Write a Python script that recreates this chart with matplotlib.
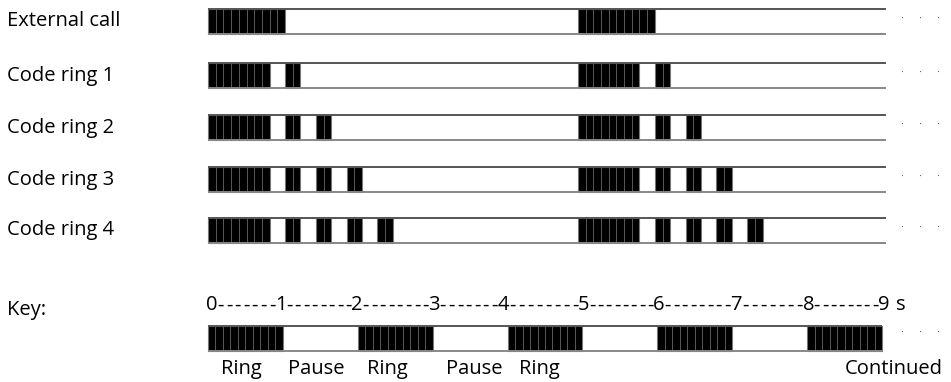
import matplotlib
matplotlib.use("Agg")
import matplotlib.pyplot as plt

# ring patterns, in 0.1 s cells: (start, length) of each burst
row_names = ["External call", "Code ring 1", "Code ring 2", "Code ring 3", "Code ring 4"]
row_bursts = [
    [(0, 10), (48, 10)],
    [(0, 8), (10, 2), (48, 8), (58, 2)],
    [(0, 8), (10, 2), (14, 2), (48, 8), (58, 2), (62, 2)],
    [(0, 8), (10, 2), (14, 2), (18, 2), (48, 8), (58, 2), (62, 2), (66, 2)],
    [(0, 8), (10, 2), (14, 2), (18, 2), (22, 2), (48, 8), (58, 2), (62, 2), (66, 2), (70, 2)],
]
row_cells = 88

# key: 1 s ring, 1 s pause, in 0.1 s cells
key_bursts = [(0, 10), (20, 10), (40, 10), (60, 10), (80, 10)]
key_cells = 90
key_digits = ["0", "1", "2", "3", "4", "5", "6", "7", "8", "9"]
key_digit_sec = [0.05, 0.97, 1.99, 3.02, 3.94, 5.02, 6.02, 7.05, 8.02, 9.02]
key_dashes = [7, 8, 8, 7, 8, 8, 8, 7, 8]
key_words = ["Ring", "Pause", "Ring", "Pause", "Ring", "Continued"]
key_word_sec = [0.45, 1.44, 2.40, 3.56, 4.42, 9.16]

plt.rcParams['font.family'] = ['Open Sans', 'DejaVu Sans']

W, H = 951, 382
fig = plt.figure(figsize=(W / 100, H / 100), dpi=100)

x0 = 208            # pixel where t = 0
row_px = 678 / row_cells
key_px = 674 / key_cells
row_y = [21.5, 75.5, 127.5, 179.5, 230.5]
key_y = 338.5
bar_h = 25
fs = 14.5

def make_ax(px):
    ax = fig.add_axes([0, 0, 1, 1])
    ax.set_xlim(-x0 / px, (W - x0) / px)
    ax.set_ylim(H, 0)
    ax.axis("off")
    ax.patch.set_alpha(0)
    return ax

def draw_strip(ax, y, bursts, ncells):
    ax.broken_barh(bursts, (y - bar_h / 2, bar_h), facecolors="black",
                   edgecolors="#777777", linewidth=0.8)
    for s, n in bursts:
        ax.vlines([s + k for k in range(1, n)], y - bar_h / 2, y + bar_h / 2,
                  colors="#666666", linewidth=0.6)
    ax.hlines(y - bar_h / 2, 0, ncells, colors="#555555", linewidth=1.4)
    ax.hlines(y + bar_h / 2, 0, ncells, colors="#888888", linewidth=1.4)

def dots(ax, px, y):
    for xp in (902, 920, 938):
        ax.text((xp - x0) / px, y, "·", fontsize=8, color="#555555",
                ha="center", va="center")

ax = make_ax(row_px)
for name, bursts, y in zip(row_names, row_bursts, row_y):
    draw_strip(ax, y, bursts, row_cells)
    ax.text(-(x0 - 7) / row_px, y + 5, name, fontsize=fs, va="baseline", ha="left")
    dots(ax, row_px, y - 2.5)

kax = make_ax(key_px)
draw_strip(kax, key_y, key_bursts, key_cells)
dots(kax, key_px, key_y - 5.5)

# time scale above the key: digits joined by runs of hyphens
for d, s in zip(key_digits, key_digit_sec):
    kax.text(s * 10, 310, d, fontsize=fs, ha="center", va="baseline")
for i, n in enumerate(key_dashes):
    a, b = key_digit_sec[i] * 10, key_digit_sec[i + 1] * 10
    for k in range(n):
        kax.text(a + (b - a) * (k + 1) / (n + 1), 311, "-", fontsize=fs,
                 ha="center", va="baseline")
kax.text(92.5, 310, "s", fontsize=fs, ha="center", va="baseline")

for w, s in zip(key_words, key_word_sec):
    kax.text(s * 10, 374, w, fontsize=fs, ha="center", va="baseline")
kax.text(-(x0 - 7) / key_px, 315, "Key:", fontsize=fs, va="baseline", ha="left")

fig.savefig("out.png", dpi=100)
